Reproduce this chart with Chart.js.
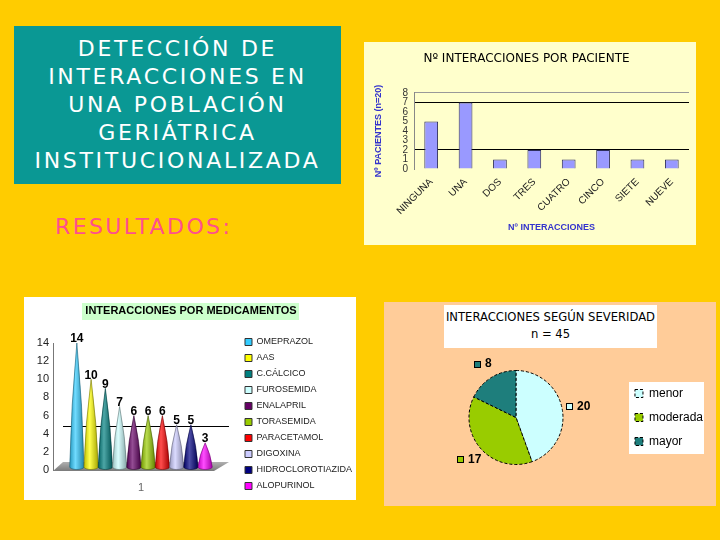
<!DOCTYPE html>
<html lang="es">
<head>
<meta charset="utf-8">
<title>Detección de interacciones en una población geriátrica institucionalizada</title>
<script src="https://cdn.jsdelivr.net/npm/chart.js@4/dist/chart.umd.min.js"></script>
<style>
  html, body { margin: 0; padding: 0; }
  body {
    width: 720px; height: 540px; position: relative; overflow: hidden;
    background: #FFCC00;
    font-family: "Comic Sans MS", "DejaVu Sans", sans-serif;
  }
  .abs { position: absolute; }
  #titleBox {
    left: 14px; top: 26px; width: 327px; height: 158px;
    background: #0A9894; color: #fff;
    display: flex; align-items: center; justify-content: center; text-align: center;
    font-size: 22px; line-height: 28px; letter-spacing: 2.7px;
  }
  #resultados { left: 55px; top: 214px; color: #FF4F8E; font-size: 22px; line-height: 26px; letter-spacing: 2.4px; }
  #box1 { left: 364px; top: 42px; width: 332px; height: 203px; background: #FFFFCC; }
  #box2 { left: 24px; top: 297px; width: 332px; height: 203px; background: #FFFFFF; }
  #box3 { left: 384px; top: 302px; width: 332px; height: 204px; background: #FFCC99; }
  #sevTitle {
    left: 444px; top: 305px; width: 213px; height: 43px; background: #FFFFFF; color: #000;
    text-align: center; font-size: 11.6px; line-height: 17px; padding-top: 4px; box-sizing: border-box;
  }
</style>
</head>
<body>

<div id="titleBox" class="abs">DETECCIÓN DE<br>INTERACCIONES EN<br>UNA POBLACIÓN<br>GERIÁTRICA<br>INSTITUCIONALIZADA</div>
<div id="resultados" class="abs">RESULTADOS:</div>

<div id="box1" class="abs"></div>
<div id="box2" class="abs"></div>
<div id="box3" class="abs"></div>
<div id="sevTitle" class="abs">INTERACCIONES SEGÚN SEVERIDAD<br>n = 45</div>

<canvas id="pacientes" class="abs" width="332" height="203" style="left:364px;top:42px"></canvas>
<canvas id="medicamentos" class="abs" width="342" height="203" style="left:20px;top:297px"></canvas>
<canvas id="severidad" class="abs" width="332" height="204" style="left:384px;top:302px"></canvas>

<script>
/* =======================
   DATA
======================= */
const pacCats = ["NINGUNA", "UNA", "DOS", "TRES", "CUATRO", "CINCO", "SIETE", "NUEVE"];
const pacVals = [5, 7, 1, 2, 1, 2, 1, 1];

const medNames = ["OMEPRAZOL", "AAS", "C.CÁLCICO", "FUROSEMIDA", "ENALAPRIL",
                  "TORASEMIDA", "PARACETAMOL", "DIGOXINA", "HIDROCLOROTIAZIDA", "ALOPURINOL"];
const medVals = [14, 10, 9, 7, 6, 6, 6, 5, 5, 3];
const medColors = ["#33CCFF", "#FFFF00", "#008080", "#CCFFFF", "#660066",
                   "#99CC00", "#FF0000", "#CCCCFF", "#000080", "#FF00FF"];

const sevCats = ["menor", "moderada", "mayor"];
const sevVals = [20, 17, 8];
const sevColors = ["#CCFFFF", "#99CC00", "#1E7E7C"];

const COMIC = '"Comic Sans MS", "DejaVu Sans", sans-serif';
const ARIAL = '"Liberation Sans", Arial, sans-serif';

/* =======================
   HELPERS
======================= */
function shade(hex, amt) {
  const n = parseInt(hex.slice(1), 16);
  const f = c => Math.round(amt < 0 ? c * (1 + amt) : c + (255 - c) * amt);
  return "rgb(" + f(n >> 16) + "," + f((n >> 8) & 255) + "," + f(n & 255) + ")";
}

// paints a box behind the chart title
function titleBox(color, height, margin) {
  return {
    id: "titleBox",
    beforeDraw(chart) {
      const t = chart.titleBlock;
      const o = chart.options.plugins.title;
      const ctx = chart.ctx;
      const lines = [].concat(o.text);
      ctx.save();
      ctx.font = (o.font.weight || "") + " " + o.font.size + "px " + o.font.family;
      const w = Math.max(...lines.map(s => ctx.measureText(s).width)) + margin * 2;
      const cx = (t.left + t.right) / 2;
      const top = t.top + o.padding.top - (height - lines.length * o.font.size * o.font.lineHeight) / 2;
      ctx.fillStyle = color;
      ctx.fillRect(Math.round(cx - w / 2), Math.round(top), Math.round(w), height);
      ctx.restore();
    }
  };
}

/* =======================
   Nº INTERACCIONES POR PACIENTE
======================= */
new Chart(document.getElementById("pacientes"), {
  type: "bar",
  data: {
    labels: pacCats,
    datasets: [{
      data: pacVals,
      backgroundColor: "#9999FF",
      borderColor: "#2E2E5C",
      borderWidth: 1,
      categoryPercentage: 0.8,
      barPercentage: 0.5
    }]
  },
  options: {
    responsive: false,
    animation: false,
    layout: { padding: { top: 0, right: 7, bottom: 0, left: 0 } },
    plugins: {
      legend: { display: false },
      tooltip: { enabled: false },
      title: {
        display: true,
        text: "Nº INTERACCIONES POR PACIENTE",
        color: "#000",
        font: { family: COMIC, size: 12, weight: "normal", lineHeight: 1.2 },
        padding: { top: 9.4, bottom: 27.1 }
      }
    },
    scales: {
      x: {
        grid: { display: false, drawTicks: false },
        border: { display: false },
        ticks: { color: "#222", font: { family: ARIAL, size: 10 }, minRotation: 45, maxRotation: 45, padding: 7 },
        title: {
          display: true, text: "Nº INTERACCIONES", color: "#3333CC",
          font: { family: ARIAL, size: 9, weight: "bold" },
          padding: { top: 0, bottom: 11.6 }
        },
        afterFit: s => { s.height = 76; }
      },
      y: {
        min: 0, max: 8,
        ticks: { stepSize: 1, autoSkip: false, color: "#333", font: { family: ARIAL, size: 10 }, padding: 6 },
        grid: {
          drawTicks: false,
          color: c => (c.tick.value === 2 || c.tick.value === 7) ? "#000"
                    : c.tick.value === 8 ? "#999" : "rgba(0,0,0,0)"
        },
        border: { color: "#888" },
        title: {
          display: true, text: "Nº PACIENTES (n=20)", color: "#3333CC",
          font: { family: ARIAL, size: 9, weight: "bold" },
          padding: { top: 9.6, bottom: 0 }
        },
        afterFit: s => { s.width = 50; }
      }
    }
  }
});

/* =======================
   INTERACCIONES POR MEDICAMENTOS (cones)
======================= */
const conePlugin = {
  id: "cones",
  beforeDatasetsDraw(chart) {
    const { ctx, chartArea: a, scales } = chart;
    const L = a.left, R = a.right, B = a.bottom;
    ctx.save();

    // back wall line
    const gy = Math.round(scales.y.getPixelForValue(4) - 8) + 0.5;
    ctx.strokeStyle = "#000";
    ctx.lineWidth = 1;
    ctx.beginPath(); ctx.moveTo(L + 10, gy); ctx.lineTo(R, gy); ctx.stroke();

    // floor
    const fg = ctx.createLinearGradient(0, B - 8, 0, B + 1);
    fg.addColorStop(0, "#b0b0b0");
    fg.addColorStop(1, "#7a7a7a");
    ctx.fillStyle = fg;
    ctx.beginPath();
    ctx.moveTo(L, B + 1); ctx.lineTo(R - 15, B + 1); ctx.lineTo(R, B - 8); ctx.lineTo(L + 10, B - 8);
    ctx.closePath(); ctx.fill();

    // cones
    chart.data.datasets.forEach((ds, i) => {
      const bar = chart.getDatasetMeta(i).data[0];
      const p = bar.getProps(["x", "y", "base", "width"], true);
      const hw = p.width / 2, by = p.base - 3;
      const cy = p.y + (by - p.y) * 0.5;
      const g = ctx.createLinearGradient(p.x - hw, 0, p.x + hw, 0);
      g.addColorStop(0, shade(ds.backgroundColor, -0.25));
      g.addColorStop(0.4, shade(ds.backgroundColor, 0.3));
      g.addColorStop(1, shade(ds.backgroundColor, -0.35));
      ctx.fillStyle = g;
      ctx.strokeStyle = shade(ds.backgroundColor, -0.55);
      ctx.lineWidth = 0.6;
      ctx.beginPath();
      ctx.moveTo(p.x, p.y);
      ctx.quadraticCurveTo(p.x + hw * 0.8, cy, p.x + hw, by);
      ctx.ellipse(p.x, by, hw, 2.5, 0, 0, Math.PI);
      ctx.quadraticCurveTo(p.x - hw * 0.8, cy, p.x, p.y);
      ctx.closePath();
      ctx.fill();
      ctx.stroke();

      ctx.fillStyle = "#000";
      ctx.font = "bold 12px " + ARIAL;
      ctx.textAlign = "center";
      ctx.textBaseline = "middle";
      ctx.fillText(ds.data[0], p.x, p.y - 4);
    });

    ctx.restore();
    return false;
  }
};

new Chart(document.getElementById("medicamentos"), {
  type: "bar",
  data: {
    labels: ["1"],
    datasets: medNames.map((name, i) => ({
      label: name,
      data: [medVals[i]],
      backgroundColor: medColors[i],
      borderColor: "#333",
      borderWidth: 1,
      categoryPercentage: 0.81,
      barPercentage: 1
    }))
  },
  options: {
    responsive: false,
    animation: false,
    layout: { padding: 0 },
    plugins: {
      tooltip: { enabled: false },
      title: {
        display: true,
        text: "INTERACCIONES POR MEDICAMENTOS",
        color: "#000",
        font: { family: ARIAL, size: 11, weight: "bold", lineHeight: 1.2 },
        padding: { top: 7.4, bottom: 25.4 }
      },
      legend: {
        position: "right",
        align: "center",
        maxWidth: 220,
        title: { display: true, text: " ", font: { size: 10, lineHeight: 1 }, padding: { top: 21, bottom: 0 } },
        labels: { boxWidth: 7, boxHeight: 7, padding: 7, color: "#222", font: { family: ARIAL, size: 9 } }
      }
    },
    scales: {
      x: {
        grid: { display: false, drawTicks: false },
        border: { display: false },
        ticks: { color: "#666", font: { family: ARIAL, size: 11 }, padding: 11.4 },
        afterFit: s => { s.height = 30; }
      },
      y: {
        min: 0, max: 14,
        ticks: { stepSize: 2, color: "#222", font: { family: ARIAL, size: 11 }, padding: 4 },
        grid: { display: false, drawTicks: false },
        border: { color: "#777" },
        afterFit: s => { s.width = 33; }
      },
      yR: {
        position: "right",
        grid: { display: false, drawTicks: false },
        border: { display: false },
        ticks: { display: false },
        afterFit: s => { s.width = 9; }
      }
    }
  },
  plugins: [conePlugin, titleBox("#CCFFCC", 17, 3)]
});

/* =======================
   INTERACCIONES SEGÚN SEVERIDAD
======================= */
const legendBox = {
  id: "legendBox",
  beforeDraw(chart) {
    const hb = chart.legend.legendHitBoxes;
    if (!hb || !hb.length) return;
    const l = Math.min(...hb.map(h => h.left)) - 6;
    const t = Math.min(...hb.map(h => h.top)) - 6;
    const r = Math.max(...hb.map(h => h.left + h.width)) + 1;
    const b = Math.max(...hb.map(h => h.top + h.height)) + 6;
    chart.ctx.save();
    chart.ctx.fillStyle = "#fff";
    chart.ctx.fillRect(Math.round(l), Math.round(t), Math.round(r - l), Math.round(b - t));
    chart.ctx.restore();
  }
};

const pieLabels = {
  id: "pieLabels",
  afterDatasetsDraw(chart) {
    const ctx = chart.ctx;
    const ds = chart.data.datasets[0];
    ctx.save();
    chart.getDatasetMeta(0).data.forEach((arc, i) => {
      const p = arc.getProps(["x", "y", "startAngle", "endAngle", "outerRadius"], true);
      const mid = (p.startAngle + p.endAngle) / 2;
      const d = p.outerRadius + 16;
      const cx = p.x + Math.cos(mid) * d, cy = p.y + Math.sin(mid) * d;
      const txt = String(ds.data[i]);
      ctx.font = "bold 12px " + ARIAL;
      const tw = ctx.measureText(txt).width;
      const x0 = Math.round(cx - (11 + tw) / 2), y0 = Math.round(cy - 3.5);
      ctx.fillStyle = ds.backgroundColor[i];
      ctx.fillRect(x0, y0, 7, 7);
      ctx.strokeStyle = "#000";
      ctx.lineWidth = 1;
      ctx.strokeRect(x0 + 0.5, y0 + 0.5, 6, 6);
      ctx.fillStyle = "#000";
      ctx.textAlign = "left";
      ctx.textBaseline = "middle";
      ctx.fillText(txt, x0 + 11, cy);
    });
    ctx.restore();
  }
};

new Chart(document.getElementById("severidad"), {
  type: "pie",
  data: {
    labels: sevCats,
    datasets: [{
      data: sevVals,
      backgroundColor: sevColors,
      borderColor: "#000",
      borderWidth: 1,
      borderDash: [3, 2]
    }]
  },
  options: {
    responsive: false,
    animation: false,
    layout: { padding: { top: 68, left: 25, right: 3, bottom: 41 } },
    plugins: {
      tooltip: { enabled: false },
      title: { display: false },
      legend: {
        position: "right",
        fullSize: false,
        labels: { boxWidth: 8, boxHeight: 8, padding: 12, color: "#000", font: { family: ARIAL, size: 12 } }
      }
    }
  },
  plugins: [legendBox, pieLabels]
});
</script>
</body>
</html>
